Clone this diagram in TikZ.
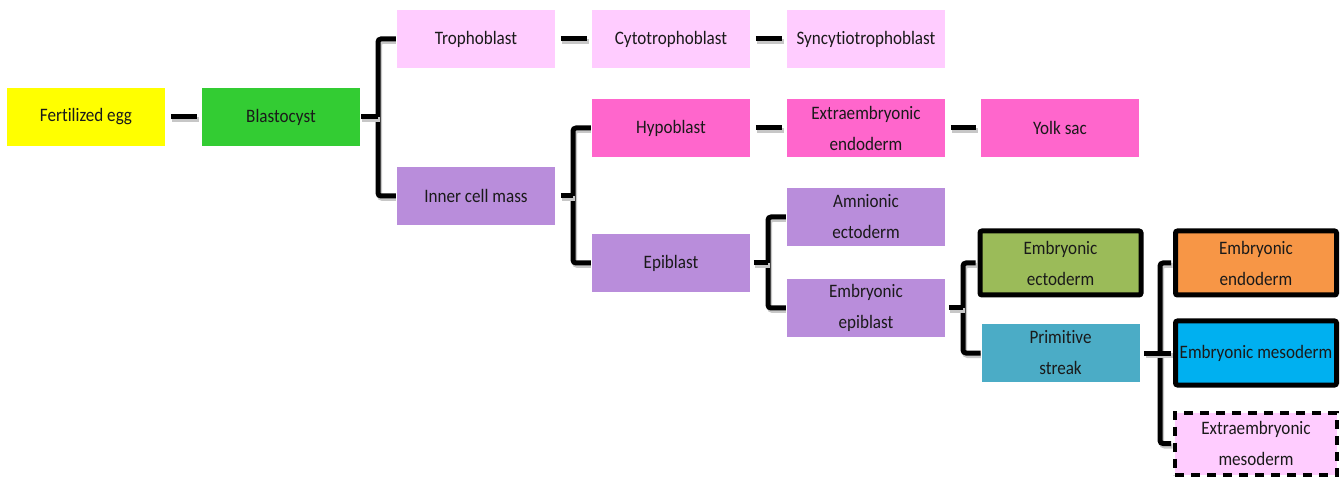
\documentclass[tikz,border=0pt]{standalone}
\usepackage{fontspec}
\setmainfont{Carlito}[Ligatures=NoCommon]
\newfontfamily\boxfont{Carlito}[Ligatures=NoCommon, FakeStretch=0.9]
\definecolor{cyellow}{HTML}{FFFF00}
\definecolor{cgreen}{HTML}{33CC33}
\definecolor{cpink}{HTML}{FFCCFF}
\definecolor{cmagenta}{HTML}{FF66CC}
\definecolor{clav}{HTML}{B98DDB}
\definecolor{colive}{HTML}{9BBB59}
\definecolor{cteal}{HTML}{4BACC6}
\definecolor{corange}{HTML}{F79646}
\definecolor{cblue}{HTML}{00B0F0}
\definecolor{ctext}{HTML}{1A1A1A}
\tikzset{
  cellbox/.style={draw=white, line width=0.8pt, minimum width=159pt, minimum height=59pt, inner sep=0pt, align=center, text=ctext,
    font=\boxfont\fontsize{19}{31}\selectfont},
  thickbox/.style={cellbox, draw=black, line width=5pt, rounded corners=2pt, minimum width=161pt, minimum height=64pt},
  dashbox/.style={cellbox, draw=black, line width=4pt, dash pattern=on 9pt off 7pt, minimum width=162pt, minimum height=62pt},
  link/.style={line width=5pt, black, rounded corners=3pt,
    preaction={draw=black!22, line width=5pt, transform canvas={shift={(1.5pt,-2.5pt)}}}},
}
\begin{document}
\begin{tikzpicture}[x=1pt,y=-1pt]
\useasboundingbox (0,0) rectangle (1344,478);
% coordinates of the bracket spines
\coordinate (b0) at (378,117);
\coordinate (b1) at (573,196);
\coordinate (b2) at (768,263);
\coordinate (b3) at (963,308);
\coordinate (b4) at (1160,353);
% node centres
\coordinate (pegg) at (86,117);
\coordinate (pblast) at (281,117);
\coordinate (ptroph) at (476,39);
\coordinate (pcyto) at (671,39);
\coordinate (psyn) at (866,39);
\coordinate (picm) at (476,196);
\coordinate (phypo) at (671,128);
\coordinate (pexendo) at (866,128);
\coordinate (pyolk) at (1060,128);
\coordinate (pepi) at (671,263);
\coordinate (pamn) at (866,217);
\coordinate (pembepi) at (866,308);
\coordinate (pecto) at (1060.5,263);
\coordinate (pps) at (1060.5,353);
\coordinate (pendo) at (1256,263);
\coordinate (pmeso) at (1256,353);
\coordinate (pexmeso) at (1256,443.5);
% invisible nodes for geometry
\begin{scope}[every node/.append style={opacity=0, text opacity=0}]
\node[cellbox] (egg) at (pegg) {Fertilized egg};
\node[cellbox] (blast) at (pblast) {Blastocyst};
\node[cellbox] (troph) at (ptroph) {Trophoblast};
\node[cellbox] (cyto) at (pcyto) {Cytotrophoblast};
\node[cellbox] (syn) at (psyn) {Syncytiotrophoblast};
\node[cellbox] (icm) at (picm) {Inner cell mass};
\node[cellbox] (hypo) at (phypo) {Hypoblast};
\node[cellbox] (exendo) at (pexendo) {Extraembryonic\\endoderm};
\node[cellbox] (yolk) at (pyolk) {Yolk sac};
\node[cellbox] (epi) at (pepi) {Epiblast};
\node[cellbox] (amn) at (pamn) {Amnionic\\ectoderm};
\node[cellbox] (embepi) at (pembepi) {Embryonic\\epiblast};
\node[thickbox] (ecto) at (pecto) {Embryonic\\ectoderm};
\node[cellbox] (ps) at (pps) {Primitive\\streak};
\node[thickbox] (endo) at (pendo) {Embryonic\\endoderm};
\node[thickbox] (meso) at (pmeso) {Embryonic mesoderm};
\node[dashbox] (exmeso) at (pexmeso) {Extraembryonic\\mesoderm};
\end{scope}
% straight links
\draw[link] ([xshift=5pt]egg.east) -- ([xshift=-4pt]blast.west);
\draw[link] ([xshift=5pt]troph.east) -- ([xshift=-4pt]cyto.west);
\draw[link] ([xshift=5pt]cyto.east) -- ([xshift=-4pt]syn.west);
\draw[link] ([xshift=5pt]hypo.east) -- ([xshift=-4pt]exendo.west);
\draw[link] ([xshift=5pt]exendo.east) -- ([xshift=-4pt]yolk.west);
% brackets
\draw[link] (troph.west) -| (b0) |- (icm.west);
\draw[link] (blast.east) -- (b0);
\draw[link] (hypo.west) -| (b1) |- (epi.west);
\draw[link] ([xshift=5pt]icm.east) -- (b1);
\draw[link] (amn.west) -| (b2) |- (embepi.west);
\draw[link] ([xshift=3pt]epi.east) -- (b2);
\draw[link] ([xshift=-2pt]ecto.west) -| (b3) |- (ps.west);
\draw[link] ([xshift=3pt]embepi.east) -- (b3);
\draw[link] ([xshift=-2pt]endo.west) -| (b4) |- ([xshift=-2pt]exmeso.west);
\draw[link] ([xshift=4pt]ps.east) -- ([xshift=-2pt]meso.west);
% visible boxes on top
\node[cellbox, fill=cyellow] at (pegg) {Fertilized egg};
\node[cellbox, fill=cgreen] at (pblast) {Blastocyst};
\node[cellbox, fill=cpink] at (ptroph) {Trophoblast};
\node[cellbox, fill=cpink] at (pcyto) {Cytotrophoblast};
\node[cellbox, fill=cpink] at (psyn) {Syncytiotrophoblast};
\node[cellbox, fill=clav] at (picm) {Inner cell mass};
\node[cellbox, fill=cmagenta] at (phypo) {Hypoblast};
\node[cellbox, fill=cmagenta] at (pexendo) {Extraembryonic\\endoderm};
\node[cellbox, fill=cmagenta] at (pyolk) {Yolk sac};
\node[cellbox, fill=clav] at (pepi) {Epiblast};
\node[cellbox, fill=clav] at (pamn) {Amnionic\\ectoderm};
\node[cellbox, fill=clav] at (pembepi) {Embryonic\\epiblast};
\node[thickbox, fill=colive] at (pecto) {Embryonic\\ectoderm};
\node[cellbox, fill=cteal] at (pps) {Primitive\\streak};
\node[thickbox, fill=corange] at (pendo) {Embryonic\\endoderm};
\node[thickbox, fill=cblue] at (pmeso) {Embryonic mesoderm};
\node[dashbox, fill=cpink] at (pexmeso) {Extraembryonic\\mesoderm};
\end{tikzpicture}
\end{document}
